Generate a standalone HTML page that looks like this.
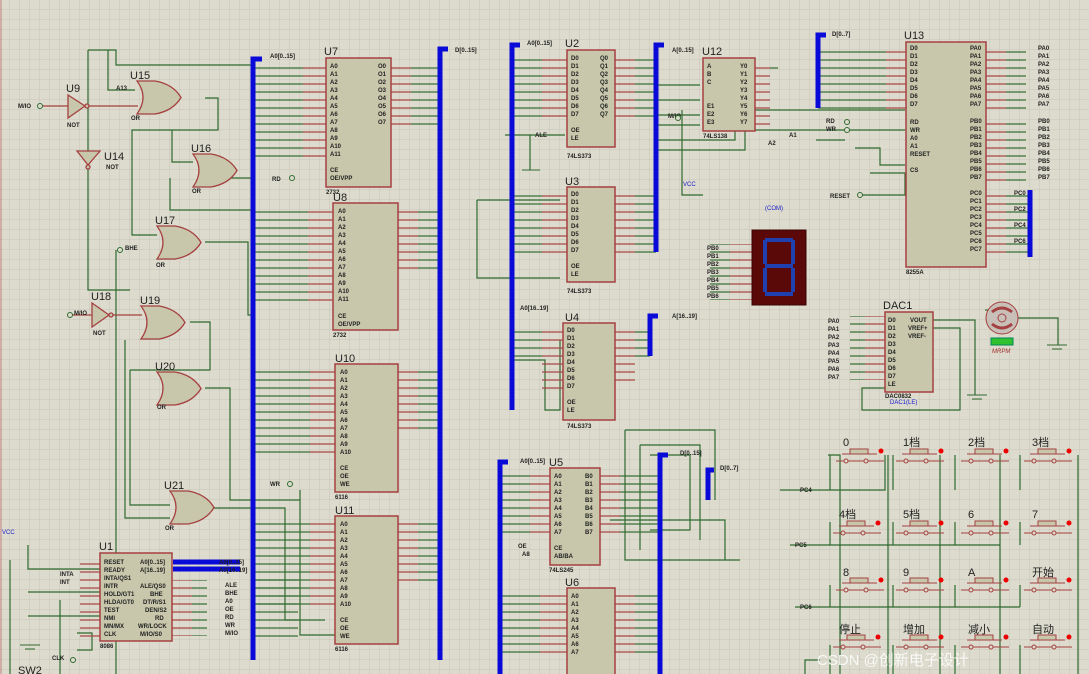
<!DOCTYPE html>
<html><head><meta charset="utf-8"><style>
html,body{margin:0;padding:0;background:#dcdbcd;}
svg{display:block}
text{font-family:"Liberation Sans","Noto Sans CJK SC",sans-serif;}
.s{font-size:6px;fill:#222;font-weight:bold}
.n{font-size:11px;fill:#222}
.b{font-size:6px;fill:#1a1acc}
</style></head><body>
<svg width="1089" height="674" viewBox="0 0 1089 674" xmlns="http://www.w3.org/2000/svg">
<defs>
<pattern id="grid" width="10" height="10" patternUnits="userSpaceOnUse"><rect width="10" height="10" fill="#dcdbcd"/><path d="M10 0V10M0 10H10" stroke="#c6c5b6" stroke-width="1"/></pattern>
<pattern id="pg" width="10" height="8" patternUnits="userSpaceOnUse"><line x1="0" y1="4" x2="10" y2="4" stroke="#2f6a2f" stroke-width="1.2"/></pattern>
<pattern id="pr" width="10" height="8" patternUnits="userSpaceOnUse"><line x1="0" y1="4" x2="10" y2="4" stroke="#a54040" stroke-width="1.2"/></pattern>
<pattern id="pg9" width="10" height="8.5" patternUnits="userSpaceOnUse"><line x1="0" y1="4" x2="10" y2="4" stroke="#2f6a2f" stroke-width="1.2"/></pattern>
<g id="or"><path d="M0 0 Q12 16 0 33 L18 33 Q36 30 44 16.5 Q36 3 18 0 Z" fill="#c8c7ac" stroke="#a54040" stroke-width="1.3"/></g>
<g id="btn"><rect x="-8" y="-6" width="18" height="5" fill="#c8c7ac" stroke="#a54040"/><line x1="-16" y1="-1" x2="19" y2="-1" stroke="#a54040"/><circle cx="23" cy="-4" r="2.5" fill="#e00"/><line x1="-22" y1="6" x2="26" y2="6" stroke="#a54040"/><circle cx="-12" cy="6" r="2" fill="#dcdbcd" stroke="#a54040"/><circle cx="8" cy="6" r="2" fill="#dcdbcd" stroke="#a54040"/></g>
</defs>
<rect width="1089" height="674" fill="url(#grid)"/>
<line x1="1" y1="0" x2="1" y2="674" stroke="#c08080"/>

<!-- green wiring -->
<g stroke="#2f6a2f" stroke-width="1.2" fill="none">
<path d="M88 50H116V65H253"/><path d="M108 50V90H135"/><path d="M88 50V290H130"/>
<path d="M205 98H218V130H132V235H157"/><path d="M172 130V162H193"/><path d="M170 178V210H253"/>
<path d="M205 242H248V315H253"/><path d="M116 250V674"/><path d="M190 322H210V370H130"/>
<path d="M205 388H230V500H300"/><path d="M125 340V518H170"/><path d="M130 370V505H170"/>
<path d="M213 508H285V620H325"/><path d="M300 490V635H335"/><path d="M210 178H253"/>
<path d="M10 560V674"/><path d="M28 545V569H100"/><path d="M28 592H100"/><path d="M28 616H100"/><path d="M60 600V674"/>
<path d="M77 633H92V650H77"/>
<path d="M477 200V278H560"/><path d="M477 200H560"/><path d="M560 340V410H545V360H512"/><path d="M530 135V170"/><path d="M505 135H565"/>
<path d="M658 100H700"/><path d="M658 115H700"/><path d="M658 85H700"/><path d="M658 125H700"/>
<path d="M682 110V195H703"/><path d="M658 140H735V120"/><path d="M658 150H745V130H905"/><path d="M755 110H905"/>
<path d="M816 140H845"/><path d="M855 148H880V165H905"/><path d="M870 173H905V195H860"/>
<path d="M985 310H1000"/><path d="M1018 318H1058V345"/><path d="M933 320H975V395"/><path d="M933 328H960V410H862V388H885"/>
<path d="M625 430H715V500"/><path d="M625 430V560H740"/><path d="M640 445H700V540"/><path d="M640 445V550"/><path d="M650 455H690V530H650"/><path d="M610 520H725V560"/>
<path d="M780 490H885V455"/><path d="M790 545H1000"/><path d="M795 607H1020"/><path d="M805 674V660H820"/>
<path d="M828 455H840V674"/><path d="M888 455V674"/><path d="M940 455V674"/><path d="M1000 455V674"/><path d="M1078 455V674"/>
<path d="M830 490V455"/><path d="M893 490V455"/><path d="M955 490V455"/><path d="M1020 490V455"/>
<path d="M830 545V522"/><path d="M893 545V522"/><path d="M955 545V522"/><path d="M1020 545V522"/>
<path d="M830 607V585"/><path d="M893 607V585"/><path d="M955 607V585"/><path d="M1020 607V585"/>
<path d="M830 674V645"/><path d="M893 674V645"/><path d="M955 674V645"/><path d="M1020 674V645"/>
</g>

<!-- pin wire fields -->
<rect x="253" y="61" width="50" height="96" fill="url(#pg)"/><rect x="303" y="61" width="23" height="96" fill="url(#pr)"/>
<rect x="391" y="61" width="20" height="64" fill="url(#pr)"/><rect x="411" y="61" width="29" height="64" fill="url(#pg)"/>
<rect x="253" y="207" width="55" height="96" fill="url(#pg)"/><rect x="308" y="207" width="25" height="96" fill="url(#pr)"/>
<rect x="398" y="207" width="20" height="64" fill="url(#pr)"/><rect x="418" y="207" width="22" height="64" fill="url(#pg)"/>
<rect x="253" y="366" width="57" height="88" fill="url(#pg)"/><rect x="310" y="366" width="25" height="88" fill="url(#pr)"/>
<rect x="398" y="366" width="20" height="64" fill="url(#pr)"/><rect x="418" y="366" width="22" height="64" fill="url(#pg)"/>
<rect x="253" y="518" width="57" height="88" fill="url(#pg)"/><rect x="310" y="518" width="25" height="88" fill="url(#pr)"/>
<rect x="398" y="518" width="20" height="64" fill="url(#pr)"/><rect x="418" y="518" width="22" height="64" fill="url(#pg)"/>
<rect x="512" y="53" width="30" height="64" fill="url(#pg)"/><rect x="542" y="53" width="25" height="64" fill="url(#pr)"/>
<rect x="615" y="53" width="20" height="64" fill="url(#pr)"/><rect x="635" y="53" width="21" height="64" fill="url(#pg)"/>
<rect x="512" y="189" width="30" height="64" fill="url(#pg)"/><rect x="542" y="189" width="25" height="64" fill="url(#pr)"/>
<rect x="615" y="189" width="20" height="64" fill="url(#pr)"/><rect x="635" y="189" width="21" height="64" fill="url(#pg)"/>
<rect x="512" y="325" width="30" height="32" fill="url(#pg)"/><rect x="542" y="325" width="21" height="64" fill="url(#pr)"/>
<rect x="615" y="325" width="20" height="60" fill="url(#pr)"/><rect x="635" y="325" width="15" height="32" fill="url(#pg)"/>
<rect x="755" y="61" width="15" height="64" fill="url(#pr)"/><rect x="770" y="61" width="8" height="8" fill="url(#pg)"/>
<rect x="818" y="45" width="68" height="64" fill="url(#pg)"/><rect x="886" y="45" width="20" height="64" fill="url(#pr)"/>
<rect x="986" y="45" width="20" height="64" fill="url(#pr)"/><rect x="1006" y="45" width="20" height="64" fill="url(#pg)"/>
<rect x="986" y="118" width="20" height="64" fill="url(#pr)"/><rect x="1006" y="118" width="20" height="64" fill="url(#pg)"/>
<rect x="986" y="190" width="20" height="64" fill="url(#pr)"/><rect x="1006" y="190" width="24" height="64" fill="url(#pg)"/>
<rect x="850" y="316" width="15" height="64" fill="url(#pg)"/><rect x="865" y="316" width="20" height="64" fill="url(#pr)"/>
<rect x="710" y="244" width="20" height="56" fill="url(#pg)"/><rect x="730" y="244" width="22" height="56" fill="url(#pr)"/>
<rect x="500" y="471" width="30" height="64" fill="url(#pg)"/><rect x="530" y="471" width="20" height="64" fill="url(#pr)"/>
<rect x="600" y="471" width="20" height="64" fill="url(#pr)"/><rect x="620" y="471" width="40" height="64" fill="url(#pg)"/>
<rect x="500" y="591" width="40" height="64" fill="url(#pg)"/><rect x="540" y="591" width="27" height="64" fill="url(#pr)"/>
<rect x="615" y="591" width="20" height="64" fill="url(#pr)"/><rect x="635" y="591" width="25" height="64" fill="url(#pg)"/>
<rect x="80" y="557" width="20" height="80" fill="url(#pr)"/><rect x="172" y="580" width="20" height="56" fill="url(#pr)"/><rect x="192" y="580" width="15" height="56" fill="url(#pg)"/>
<rect x="253" y="573" width="45" height="64" fill="url(#pg)"/>

<!-- chips -->
<g fill="#c8c7ac" stroke="#a54040" stroke-width="1.5">
<rect x="326" y="58" width="65" height="129"/>
<rect x="333" y="203" width="65" height="127"/>
<rect x="335" y="364" width="63" height="128"/>
<rect x="335" y="516" width="63" height="128"/>
<rect x="567" y="50" width="48" height="97"/>
<rect x="567" y="187" width="48" height="95"/>
<rect x="563" y="323" width="52" height="97"/>
<rect x="703" y="58" width="52" height="73"/>
<rect x="906" y="42" width="80" height="225"/>
<rect x="885" y="312" width="48" height="80"/>
<rect x="550" y="468" width="50" height="97"/>
<rect x="567" y="588" width="48" height="90"/>
<rect x="100" y="553" width="72" height="88"/>
</g>

<!-- gates -->
<use href="#or" x="137" y="81"/><use href="#or" x="193" y="154"/><use href="#or" x="157" y="226"/>
<use href="#or" x="141" y="306"/><use href="#or" x="157" y="372"/><use href="#or" x="170" y="491"/>
<g fill="#c8c7ac" stroke="#a54040" stroke-width="1.3">
<path d="M68 95L85 106L68 118Z"/><circle cx="87" cy="106" r="2"/>
<path d="M77 151L100 151L88 165Z"/><circle cx="88" cy="167" r="2"/>
<path d="M92 303L109 315L92 327Z"/><circle cx="111" cy="315" r="2"/>
</g>
<g stroke="#a54040" stroke-width="1.2"><path d="M43 106H68M89 106H138"/><path d="M72 315H92M113 315H142"/></g>

<!-- 7 seg -->
<rect x="752" y="230" width="54" height="75" fill="#5a0808" stroke="#3a0505"/>
<path d="M765 240H793M765 240V264M793 240V264M765 266H793M765 268V292M793 268V292M765 294H793" stroke="#2040b0" stroke-width="4" fill="none"/>
<!-- motor -->
<circle cx="1002" cy="318" r="16" fill="#c8c0b8" stroke="#a54040"/><circle cx="1002" cy="318" r="4" fill="none" stroke="#a54040"/>
<path d="M992 312Q1002 304 1012 312M992 324Q1002 332 1012 324" stroke="#a54040" stroke-width="3" fill="none"/>
<rect x="991" y="338" width="22" height="7" fill="#30c030" stroke="#085"/>
<!-- grounds -->
<g stroke="#2f6a2f"><path d="M20 645H40M25 649H35M1047 345H1067M1052 349H1062M967 395H987M972 399H982M522 170H540"/></g>

<!-- buses -->
<g stroke="#0a0ad8" stroke-width="5" fill="none">
<path d="M253 660V59H262"/><path d="M440 660V49H448"/><path d="M512 410V45H520"/><path d="M656 252V45H664"/>
<path d="M818 108V35H826"/><path d="M1030 257V190"/><path d="M650 356V316H658"/><path d="M173 562H240M173 569H240"/>
<path d="M500 674V462H508"/><path d="M660 674V455H668"/><path d="M708 500V470H714"/>
</g>

<!-- buttons -->
<g>
<use href="#btn" x="858" y="455"/><use href="#btn" x="918" y="455"/><use href="#btn" x="983" y="455"/><use href="#btn" x="1046" y="455"/>
<use href="#btn" x="855" y="527"/><use href="#btn" x="918" y="527"/><use href="#btn" x="983" y="527"/><use href="#btn" x="1046" y="527"/>
<use href="#btn" x="858" y="584"/><use href="#btn" x="918" y="584"/><use href="#btn" x="983" y="584"/><use href="#btn" x="1046" y="584"/>
<use href="#btn" x="855" y="641"/><use href="#btn" x="918" y="641"/><use href="#btn" x="983" y="641"/><use href="#btn" x="1046" y="641"/>
</g>
<g style="font-size:11px;fill:#222">
<text x="843" y="446">0</text><text x="903" y="446">1档</text><text x="968" y="446">2档</text><text x="1032" y="446">3档</text>
<text x="839" y="518">4档</text><text x="903" y="518">5档</text><text x="968" y="518">6</text><text x="1032" y="518">7</text>
<text x="843" y="576">8</text><text x="903" y="576">9</text><text x="968" y="576">A</text><text x="1032" y="576">开始</text>
<text x="839" y="633">停止</text><text x="903" y="633">增加</text><text x="968" y="633">减小</text><text x="1032" y="633">自动</text>
</g>

<!-- labels -->
<g class="n">
<text x="324" y="55">U7</text><text x="333" y="201">U8</text><text x="335" y="362">U10</text><text x="335" y="514">U11</text>
<text x="565" y="47">U2</text><text x="565" y="185">U3</text><text x="565" y="321">U4</text><text x="702" y="55">U12</text>
<text x="904" y="39">U13</text><text x="883" y="309">DAC1</text><text x="549" y="466">U5</text><text x="565" y="586">U6</text>
<text x="99" y="550">U1</text><text x="130" y="79">U15</text><text x="191" y="152">U16</text><text x="155" y="224">U17</text>
<text x="140" y="304">U19</text><text x="155" y="370">U20</text><text x="164" y="489">U21</text>
<text x="66" y="92">U9</text><text x="104" y="160">U14</text><text x="91" y="300">U18</text><text x="18" y="674">SW2</text>
</g>
<g class="s">
<text x="330" y="68">A0</text><text x="330" y="76">A1</text><text x="330" y="84">A2</text><text x="330" y="92">A3</text><text x="330" y="100">A4</text><text x="330" y="108">A5</text><text x="330" y="116">A6</text><text x="330" y="124">A7</text><text x="330" y="132">A8</text><text x="330" y="140">A9</text><text x="330" y="148">A10</text><text x="330" y="156">A11</text><text x="330" y="172">CE</text><text x="330" y="180">OE/VPP</text>
<text x="378" y="68">O0</text><text x="378" y="76">O1</text><text x="378" y="84">O2</text><text x="378" y="92">O3</text><text x="378" y="100">O4</text><text x="378" y="108">O5</text><text x="378" y="116">O6</text><text x="378" y="124">O7</text>
<text x="338" y="213">A0</text><text x="338" y="221">A1</text><text x="338" y="229">A2</text><text x="338" y="237">A3</text><text x="338" y="245">A4</text><text x="338" y="253">A5</text><text x="338" y="261">A6</text><text x="338" y="269">A7</text><text x="338" y="277">A8</text><text x="338" y="285">A9</text><text x="338" y="293">A10</text><text x="338" y="301">A11</text><text x="338" y="318">CE</text><text x="338" y="326">OE/VPP</text>
<text x="340" y="374">A0</text><text x="340" y="382">A1</text><text x="340" y="390">A2</text><text x="340" y="398">A3</text><text x="340" y="406">A4</text><text x="340" y="414">A5</text><text x="340" y="422">A6</text><text x="340" y="430">A7</text><text x="340" y="438">A8</text><text x="340" y="446">A9</text><text x="340" y="454">A10</text><text x="340" y="470">CE</text><text x="340" y="478">OE</text><text x="340" y="486">WE</text>
<text x="340" y="526">A0</text><text x="340" y="534">A1</text><text x="340" y="542">A2</text><text x="340" y="550">A3</text><text x="340" y="558">A4</text><text x="340" y="566">A5</text><text x="340" y="574">A6</text><text x="340" y="582">A7</text><text x="340" y="590">A8</text><text x="340" y="598">A9</text><text x="340" y="606">A10</text><text x="340" y="622">CE</text><text x="340" y="630">OE</text><text x="340" y="638">WE</text>
<text x="571" y="60">D0</text><text x="571" y="68">D1</text><text x="571" y="76">D2</text><text x="571" y="84">D3</text><text x="571" y="92">D4</text><text x="571" y="100">D5</text><text x="571" y="108">D6</text><text x="571" y="116">D7</text><text x="571" y="132">OE</text><text x="571" y="140">LE</text>
<text x="600" y="60">Q0</text><text x="600" y="68">Q1</text><text x="600" y="76">Q2</text><text x="600" y="84">Q3</text><text x="600" y="92">Q4</text><text x="600" y="100">Q5</text><text x="600" y="108">Q6</text><text x="600" y="116">Q7</text>
<text x="571" y="196">D0</text><text x="571" y="204">D1</text><text x="571" y="212">D2</text><text x="571" y="220">D3</text><text x="571" y="228">D4</text><text x="571" y="236">D5</text><text x="571" y="244">D6</text><text x="571" y="252">D7</text><text x="571" y="268">OE</text><text x="571" y="276">LE</text>
<text x="567" y="332">D0</text><text x="567" y="340">D1</text><text x="567" y="348">D2</text><text x="567" y="356">D3</text><text x="567" y="364">D4</text><text x="567" y="372">D5</text><text x="567" y="380">D6</text><text x="567" y="388">D7</text><text x="567" y="404">OE</text><text x="567" y="412">LE</text>
<text x="707" y="68">A</text><text x="707" y="76">B</text><text x="707" y="84">C</text><text x="707" y="108">E1</text><text x="707" y="116">E2</text><text x="707" y="124">E3</text><text x="740" y="68">Y0</text><text x="740" y="76">Y1</text><text x="740" y="84">Y2</text><text x="740" y="92">Y3</text><text x="740" y="100">Y4</text><text x="740" y="108">Y5</text><text x="740" y="116">Y6</text><text x="740" y="124">Y7</text>
<text x="910" y="50">D0</text><text x="910" y="58">D1</text><text x="910" y="66">D2</text><text x="910" y="74">D3</text><text x="910" y="82">D4</text><text x="910" y="90">D5</text><text x="910" y="98">D6</text><text x="910" y="106">D7</text><text x="910" y="124">RD</text><text x="910" y="132">WR</text><text x="910" y="140">A0</text><text x="910" y="148">A1</text><text x="910" y="156">RESET</text><text x="910" y="172">CS</text>
<text x="970" y="50">PA0</text><text x="970" y="58">PA1</text><text x="970" y="66">PA2</text><text x="970" y="74">PA3</text><text x="970" y="82">PA4</text><text x="970" y="90">PA5</text><text x="970" y="98">PA6</text><text x="970" y="106">PA7</text>
<text x="970" y="123">PB0</text><text x="970" y="131">PB1</text><text x="970" y="139">PB2</text><text x="970" y="147">PB3</text><text x="970" y="155">PB4</text><text x="970" y="163">PB5</text><text x="970" y="171">PB6</text><text x="970" y="179">PB7</text>
<text x="970" y="195">PC0</text><text x="970" y="203">PC1</text><text x="970" y="211">PC2</text><text x="970" y="219">PC3</text><text x="970" y="227">PC4</text><text x="970" y="235">PC5</text><text x="970" y="243">PC6</text><text x="970" y="251">PC7</text>
<text x="1038" y="50">PA0</text><text x="1038" y="58">PA1</text><text x="1038" y="66">PA2</text><text x="1038" y="74">PA3</text><text x="1038" y="82">PA4</text><text x="1038" y="90">PA5</text><text x="1038" y="98">PA6</text><text x="1038" y="106">PA7</text>
<text x="1038" y="123">PB0</text><text x="1038" y="131">PB1</text><text x="1038" y="139">PB2</text><text x="1038" y="147">PB3</text><text x="1038" y="155">PB4</text><text x="1038" y="163">PB5</text><text x="1038" y="171">PB6</text><text x="1038" y="179">PB7</text>
<text x="1014" y="195">PC0</text><text x="1014" y="211">PC2</text><text x="1014" y="227">PC4</text><text x="1014" y="243">PC6</text>
<text x="906" y="274">8255A</text><text x="888" y="322">D0</text><text x="888" y="330">D1</text><text x="888" y="338">D2</text><text x="888" y="346">D3</text><text x="888" y="354">D4</text><text x="888" y="362">D5</text><text x="888" y="370">D6</text><text x="888" y="378">D7</text><text x="888" y="386">LE</text>
<text x="910" y="322">VOUT</text><text x="908" y="330">VREF+</text><text x="908" y="338">VREF-</text>
<text x="828" y="323">PA0</text><text x="828" y="331">PA1</text><text x="828" y="339">PA2</text><text x="828" y="347">PA3</text><text x="828" y="355">PA4</text><text x="828" y="363">PA5</text><text x="828" y="371">PA6</text><text x="828" y="379">PA7</text>
<text x="707" y="250">PB0</text><text x="707" y="258">PB1</text><text x="707" y="266">PB2</text><text x="707" y="274">PB3</text><text x="707" y="282">PB4</text><text x="707" y="290">PB5</text><text x="707" y="298">PB6</text>
<text x="554" y="478">A0</text><text x="554" y="486">A1</text><text x="554" y="494">A2</text><text x="554" y="502">A3</text><text x="554" y="510">A4</text><text x="554" y="518">A5</text><text x="554" y="526">A6</text><text x="554" y="534">A7</text><text x="554" y="550">CE</text><text x="554" y="558">AB/BA</text>
<text x="585" y="478">B0</text><text x="585" y="486">B1</text><text x="585" y="494">B2</text><text x="585" y="502">B3</text><text x="585" y="510">B4</text><text x="585" y="518">B5</text><text x="585" y="526">B6</text><text x="585" y="534">B7</text>
<text x="571" y="598">A0</text><text x="571" y="606">A1</text><text x="571" y="614">A2</text><text x="571" y="622">A3</text><text x="571" y="630">A4</text><text x="571" y="638">A5</text><text x="571" y="646">A6</text><text x="571" y="654">A7</text>
<text x="104" y="564">RESET</text><text x="104" y="572">READY</text><text x="104" y="580">INTA/QS1</text><text x="104" y="588">INTR</text><text x="104" y="596">HOLD/GT1</text><text x="104" y="604">HLDA/GT0</text><text x="104" y="612">TEST</text><text x="104" y="620">NMI</text><text x="104" y="628">MN/MX</text><text x="104" y="636">CLK</text>
<text x="140" y="564">A0[0..15]</text><text x="140" y="572">A[16..19]</text><text x="140" y="588">ALE/QS0</text><text x="150" y="596">BHE</text><text x="143" y="604">DT/R/S1</text><text x="145" y="612">DEN/S2</text><text x="155" y="620">RD</text><text x="138" y="628">WR/LOCK</text><text x="140" y="636">M/IO/S0</text>
<text x="219" y="564">A0[0..15]</text><text x="219" y="572">A0[16..19]</text><text x="225" y="587">ALE</text><text x="225" y="595">BHE</text><text x="225" y="603">A0</text><text x="225" y="611">OE</text><text x="225" y="619">RD</text><text x="225" y="627">WR</text><text x="225" y="635">M/IO</text>
<text x="270" y="58">A0[0..15]</text><text x="455" y="52">D[0..15]</text><text x="527" y="45">A0[0..15]</text><text x="672" y="52">A[0..15]</text><text x="832" y="36">D[0..7]</text>
<text x="672" y="318">A[16..19]</text><text x="520" y="310">A0[16..19]</text><text x="520" y="463">A0[0..15]</text><text x="680" y="455">D[0..15]</text><text x="720" y="470">D[0..7]</text>
<text x="18" y="108">M/IO</text><text x="67" y="127">NOT</text><text x="106" y="169">NOT</text><text x="93" y="335">NOT</text><text x="74" y="315">M/IO</text><text x="116" y="90">A13</text><text x="125" y="250">BHE</text>
<text x="131" y="120">OR</text><text x="192" y="193">OR</text><text x="156" y="267">OR</text><text x="157" y="409">OR</text><text x="165" y="530">OR</text>
<text x="272" y="181">RD</text><text x="270" y="486">WR</text><text x="826" y="123">RD</text><text x="826" y="131">WR</text><text x="830" y="198">RESET</text><text x="789" y="137">A1</text><text x="768" y="145">A2</text>
<text x="668" y="118">M/IO</text><text x="535" y="137">ALE</text><text x="518" y="548">OE</text><text x="522" y="556">A8</text>
<text x="567" y="158">74LS373</text><text x="567" y="293">74LS373</text><text x="567" y="428">74LS373</text><text x="703" y="138">74LS138</text><text x="549" y="572">74LS245</text><text x="100" y="648">8086</text>
<text x="326" y="194">2732</text><text x="333" y="337">2732</text><text x="335" y="499">6116</text><text x="335" y="651">6116</text><text x="885" y="398">DAC0832</text>
<text x="52" y="660">CLK</text><text x="60" y="576">INTA</text><text x="60" y="584">INT</text>
<text x="800" y="492">PC4</text><text x="795" y="547">PC5</text><text x="800" y="609">PC6</text>
</g>
<g class="b"><text x="683" y="186">VCC</text><text x="765" y="210">(COM)</text><text x="890" y="404">DAC1(LE)</text><text x="2" y="534">VCC</text></g>
<text x="992" y="353" style="font-size:6px;fill:#a03030;font-style:italic">MRPM</text>
<g fill="#dcdbcd" stroke="#2f6a2f"><circle cx="40" cy="106" r="2.5"/><circle cx="70" cy="315" r="2.5"/><circle cx="120" cy="250" r="2.5"/><circle cx="292" cy="178" r="2.5"/><circle cx="290" cy="484" r="2.5"/><circle cx="847" cy="122" r="2.5"/><circle cx="847" cy="130" r="2.5"/><circle cx="860" cy="195" r="2.5"/><circle cx="678" cy="118" r="2.5"/><circle cx="73" cy="660" r="2.5"/></g>
<text x="817" y="665" style="font-size:15px;fill:#ffffff;opacity:0.85">CSDN @创新电子设计</text>
</svg>
</body></html>
